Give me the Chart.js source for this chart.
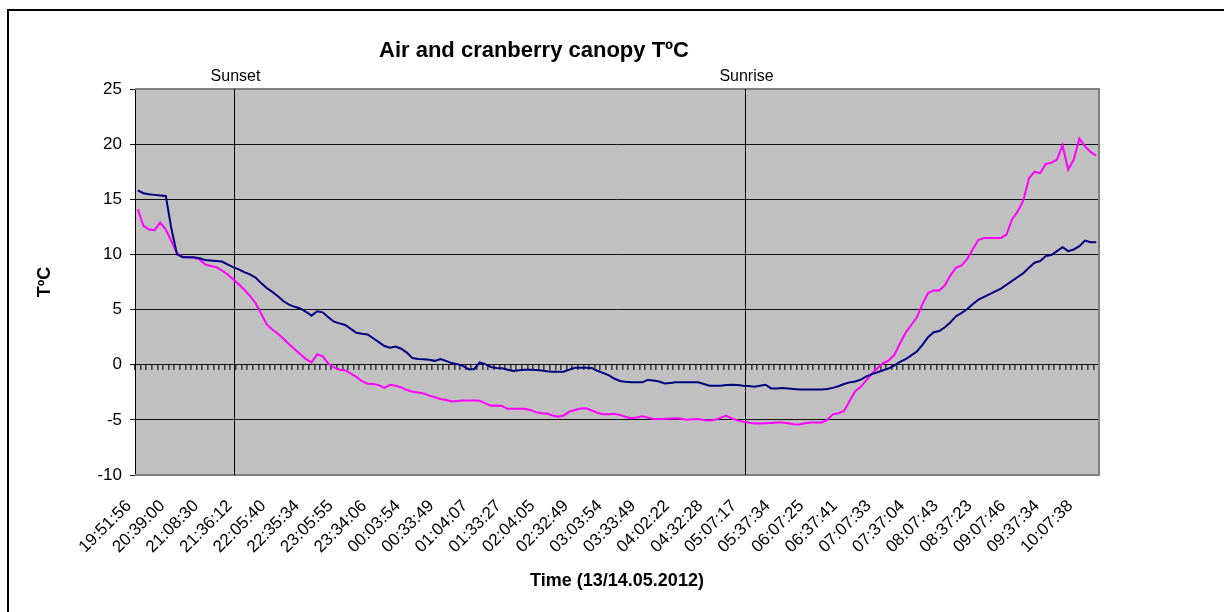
<!DOCTYPE html>
<html>
<head>
<meta charset="utf-8">
<script src="https://cdn.jsdelivr.net/npm/chart.js@4.4.0/dist/chart.umd.min.js"></script>
<style>
body { margin: 0; background: #fff; }
#wrap { position: relative; width: 1224px; height: 612px; overflow: hidden; }
#frame { position: absolute; left: 7px; top: 9px; width: 1240px; height: 640px; border: 2px solid #000; box-sizing: border-box; }
canvas { position: absolute; left: 0; top: 0; }
</style>
</head>
<body>
<div id="wrap">
  <div id="frame"></div>
  <canvas id="myChart" width="1224" height="612"></canvas>
</div>
<script>
var chartTitle = 'Air and cranberry canopy TºC';

// every 6th reading gets a label on the time axis
var tickLabels = ['19:51:56', '20:39:00', '21:08:30', '21:36:12', '22:05:40', '22:35:34', '23:05:55', '23:34:06',
    '00:03:54', '00:33:49', '01:04:07', '01:33:27', '02:04:05', '02:32:49', '03:03:54', '03:33:49', '04:02:22',
    '04:32:28', '05:07:17', '05:37:34', '06:07:25', '06:37:41', '07:07:33', '07:37:04', '08:07:43', '08:37:23',
    '09:07:46', '09:37:34', '10:07:38'];
var labelStep = 6;
var readingCount = 172;

var airTemp = [15.8, 15.55, 15.45, 15.4, 15.35, 15.3, 12.3, 10.0, 9.75, 9.75,
    9.75, 9.65, 9.5, 9.45, 9.4, 9.35, 9.1, 8.85, 8.65, 8.4,
    8.2, 7.9, 7.4, 6.95, 6.6, 6.2, 5.75, 5.45, 5.25, 5.1,
    4.8, 4.45, 4.85, 4.75, 4.3, 3.9, 3.75, 3.6, 3.25, 2.9,
    2.8, 2.75, 2.4, 2.05, 1.7, 1.55, 1.65, 1.45, 1.1, 0.6,
    0.52, 0.5, 0.45, 0.35, 0.52, 0.35, 0.15, 0.05, -0.1, -0.4,
    -0.4, 0.2, 0.05, -0.2, -0.3, -0.33, -0.45, -0.57, -0.5, -0.45,
    -0.45, -0.48, -0.52, -0.6, -0.63, -0.63, -0.63, -0.45, -0.28, -0.27,
    -0.27, -0.3, -0.55, -0.75, -0.95, -1.25, -1.47, -1.55, -1.6, -1.6,
    -1.6, -1.38, -1.43, -1.52, -1.7, -1.65, -1.6, -1.6, -1.6, -1.6,
    -1.6, -1.75, -1.9, -1.9, -1.9, -1.85, -1.82, -1.85, -1.9, -1.93,
    -2.0, -1.9, -1.82, -2.15, -2.15, -2.12, -2.15, -2.2, -2.25, -2.25,
    -2.25, -2.25, -2.25, -2.2, -2.1, -1.95, -1.75, -1.6, -1.52, -1.35,
    -1.05, -0.85, -0.68, -0.5, -0.33, -0.05, 0.25, 0.5, 0.85, 1.2,
    1.8, 2.5, 2.95, 3.05, 3.4, 3.85, 4.4, 4.7, 5.05, 5.5,
    5.9, 6.15, 6.4, 6.65, 6.9, 7.25, 7.6, 7.95, 8.3, 8.8,
    9.25, 9.4, 9.85, 9.95, 10.3, 10.65, 10.3, 10.45, 10.75, 11.25,
    11.1, 11.1];

var canopyTemp = [14.1, 12.6, 12.25, 12.2, 12.9, 12.25, 11.2, 10.1, 9.8, 9.75,
    9.7, 9.55, 9.1, 8.95, 8.85, 8.55, 8.2, 7.75, 7.3, 6.8,
    6.25, 5.6, 4.65, 3.65, 3.2, 2.8, 2.35, 1.85, 1.4, 0.95,
    0.5, 0.2, 0.95, 0.75, 0.1, -0.25, -0.45, -0.5, -0.8, -1.1,
    -1.5, -1.72, -1.75, -1.85, -2.1, -1.82, -1.9, -2.05, -2.3, -2.45,
    -2.52, -2.6, -2.8, -2.95, -3.1, -3.2, -3.33, -3.3, -3.25, -3.25,
    -3.25, -3.26, -3.5, -3.72, -3.7, -3.75, -4.0, -4.0, -4.0, -4.0,
    -4.1, -4.3, -4.4, -4.42, -4.6, -4.72, -4.6, -4.25, -4.1, -3.98,
    -3.95, -4.15, -4.35, -4.5, -4.5, -4.45, -4.55, -4.72, -4.85, -4.78,
    -4.68, -4.8, -4.92, -4.92, -4.92, -4.88, -4.85, -4.9, -5.0, -4.95,
    -4.92, -5.02, -5.05, -5.0, -4.8, -4.62, -4.88, -5.05, -5.17, -5.25,
    -5.33, -5.33, -5.3, -5.28, -5.25, -5.23, -5.3, -5.4, -5.42, -5.3,
    -5.25, -5.23, -5.23, -5.0, -4.5, -4.4, -4.2, -3.3, -2.4, -2.0,
    -1.4, -0.8, -0.3, 0.15, 0.4, 0.9, 1.95, 2.9, 3.6, 4.3,
    5.5, 6.5, 6.74, 6.74, 7.2, 8.1, 8.8, 9.0, 9.6, 10.5,
    11.33, 11.48, 11.48, 11.48, 11.5, 11.8, 13.2, 13.9, 14.9, 16.9,
    17.5, 17.37, 18.2, 18.3, 18.6, 19.9, 17.68, 18.6, 20.5, 19.8,
    19.3, 18.95];

var markerNames = ['Sunset', 'Sunrise'];
var markerIndex = [17.2, 108.3];

var yMin = -10;
var yMax = 25;
var yStep = 5;

var fontFamily = 'Arial, "Liberation Sans", sans-serif';

function buildCategories() {
    var cats = [];
    for (var i = 0; i < readingCount; i++) {
        cats.push(i % labelStep == 0 ? tickLabels[i / labelStep] : '');
    }
    return cats;
}

var plotFrame = {
    id: 'plotFrame',
    beforeDraw: function (chart) {
        var a = chart.chartArea;
        var ctx = chart.ctx;
        ctx.save();
        ctx.fillStyle = '#c0c0c0';
        ctx.fillRect(a.left, a.top, a.right - a.left, a.bottom - a.top);
        ctx.restore();
    },
    beforeDatasetsDraw: function (chart) {
        var a = chart.chartArea;
        var ctx = chart.ctx;
        var xs = chart.scales.x;
        ctx.save();
        // grey plot border (left side is the value axis)
        ctx.strokeStyle = '#808080';
        ctx.lineWidth = 2;
        ctx.beginPath();
        ctx.moveTo(a.left, a.top);
        ctx.lineTo(a.right, a.top);
        ctx.lineTo(a.right, a.bottom);
        ctx.lineTo(a.left, a.bottom);
        ctx.stroke();

        // sunset / sunrise markers
        ctx.strokeStyle = '#000';
        ctx.lineWidth = 1;
        ctx.fillStyle = '#000';
        ctx.textAlign = 'center';
        ctx.font = '16px ' + fontFamily;
        markerIndex.forEach(function (v, k) {
            var px = Math.round(xs.getPixelForValue(v)) + 0.5;
            ctx.beginPath();
            ctx.moveTo(px, a.top);
            ctx.lineTo(px, a.bottom);
            ctx.stroke();
            ctx.fillText(markerNames[k], px + 1, a.top - 8);
        });

        ctx.font = 'bold 22px ' + fontFamily;
        ctx.fillText(chartTitle, 534, 57);
        ctx.restore();
    }
};

function setupChart() {
    var cats = buildCategories();
    var ctx = document.getElementById('myChart').getContext('2d');
    var myChart = new Chart(ctx, {
        type: 'line',
        data: {
            labels: cats,
            datasets: [{
                label: 'Air',
                data: airTemp,
                borderColor: '#000080',
                borderWidth: 2,
                pointRadius: 0,
                tension: 0,
                fill: false
            }, {
                label: 'Canopy',
                data: canopyTemp,
                borderColor: '#ff00ff',
                borderWidth: 2,
                pointRadius: 0,
                tension: 0,
                fill: false
            }]
        },
        options: {
            responsive: false,
            animation: false,
            layout: {
                padding: { left: 30, right: 125, top: 89, bottom: 10 }
            },
            plugins: {
                legend: { display: false },
                tooltip: { enabled: false }
            },
            scales: {
                x: {
                    type: 'category',
                    offset: true,
                    grid: { display: false, drawTicks: false },
                    border: { display: false },
                    ticks: {
                        autoSkip: false,
                        maxRotation: 45,
                        minRotation: 45,
                        padding: 21,
                        labelOffset: -9,
                        color: '#000',
                        font: { family: fontFamily, size: 17 }
                    },
                    title: {
                        display: true,
                        text: 'Time (13/14.05.2012)',
                        color: '#000',
                        font: { family: fontFamily, size: 18, weight: 'bold' },
                        padding: { top: 0, bottom: 10 }
                    },
                    afterFit: function (s) { s.height = 127; }
                },
                x2: {
                    type: 'category',
                    labels: cats,
                    position: { y: 0 },
                    offset: true,
                    grid: { offset: true, drawOnChartArea: false, drawTicks: true, tickLength: 5, color: '#404040', lineWidth: 1.6 },
                    border: { display: false },
                    ticks: { display: false },
                    afterFit: function (s) { s.height = 0; }
                },
                y: {
                    min: yMin,
                    max: yMax,
                    ticks: {
                        stepSize: yStep,
                        padding: 8,
                        color: '#000',
                        font: { family: fontFamily, size: 17 }
                    },
                    grid: { color: '#111', lineWidth: 1, tickLength: 5 },
                    border: { color: '#000', width: 1 },
                    title: {
                        display: true,
                        text: 'TºC',
                        color: '#000',
                        font: { family: fontFamily, size: 18, weight: 'bold' },
                        padding: { top: 4, bottom: 0 }
                    },
                    afterFit: function (s) { s.width = 105; }
                }
            }
        },
        plugins: [plotFrame]
    });
}

setupChart();
</script>
</body>
</html>
